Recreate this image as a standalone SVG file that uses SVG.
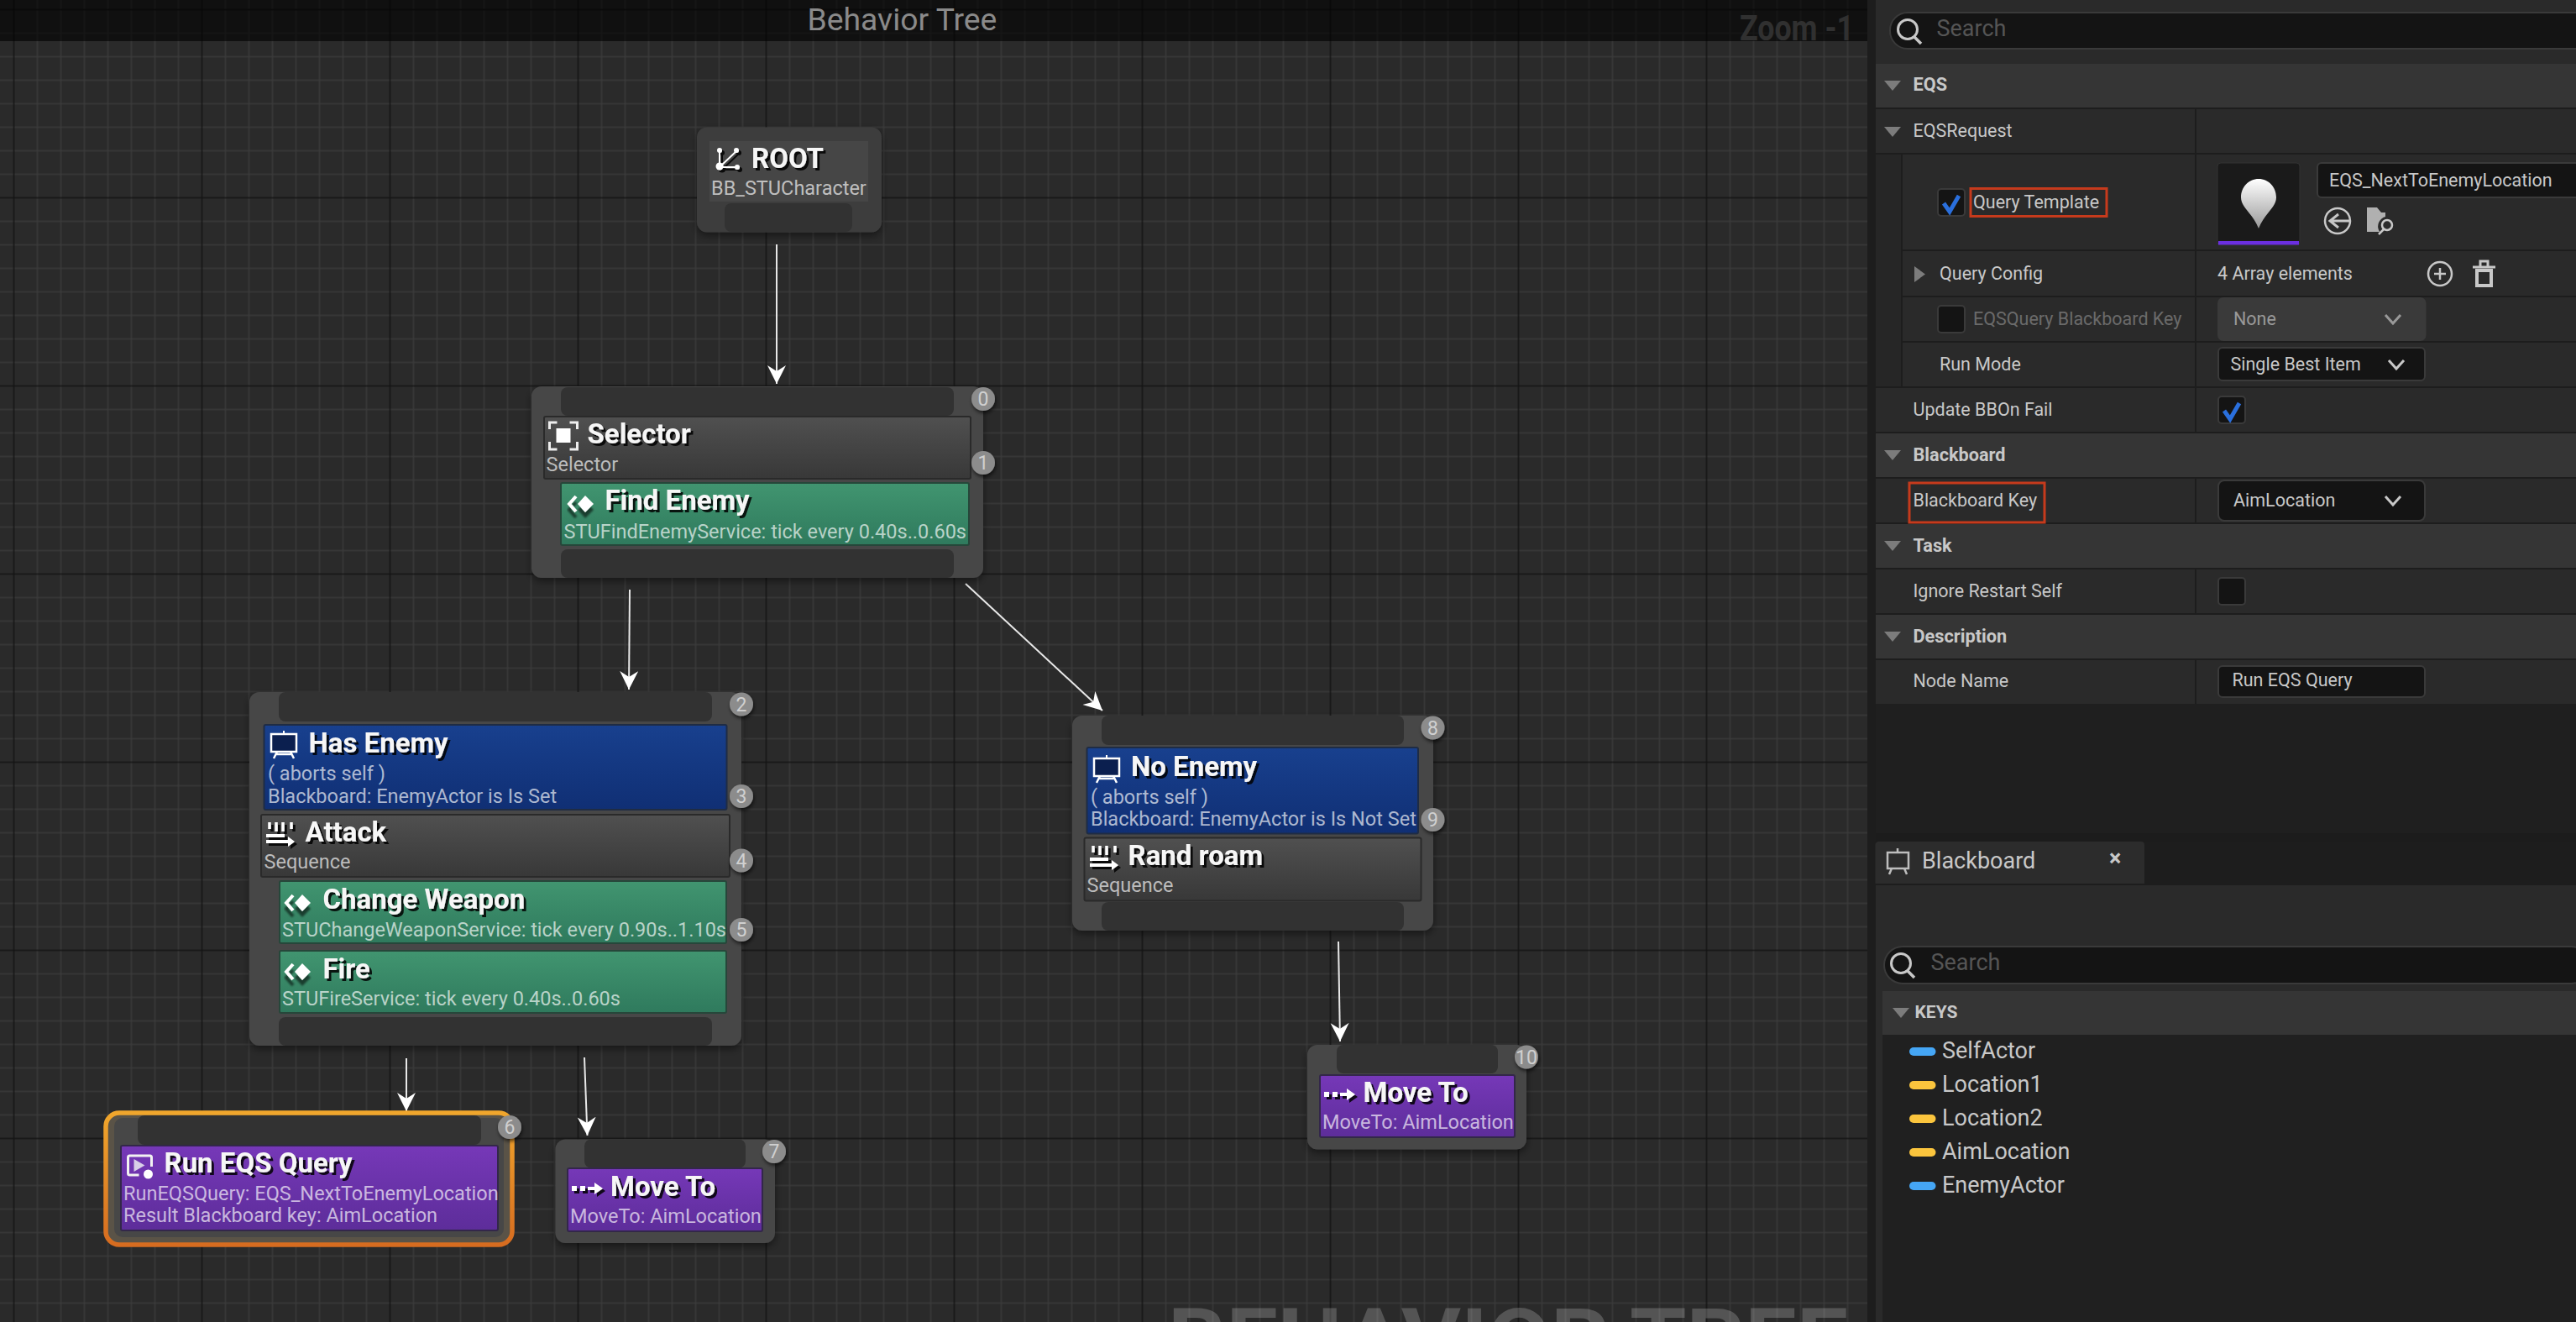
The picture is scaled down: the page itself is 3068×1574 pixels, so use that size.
<svg xmlns="http://www.w3.org/2000/svg" xmlns:xlink="http://www.w3.org/1999/xlink" width="3068" height="1574" viewBox="0 0 3068 1574">
<style>
text{font-family:Roboto,"Liberation Sans",sans-serif}
.node{fill:#474747}
.pin{fill:#323232}
.gray{fill:url(#gGray);stroke:#2a2a2a;stroke-width:2}
.blue{fill:url(#gBlue);stroke:#1f2c44;stroke-width:2}
.green{fill:url(#gGreen);stroke:#26473a;stroke-width:2}
.purple{fill:url(#gPurple);stroke:#33274a;stroke-width:2}
.t{font-weight:700;font-size:33px;fill:#f6f6f6;filter:url(#ts)}
.s{font-size:23.500px;fill:#fff;fill-opacity:.66}
.bc{fill:#8c8c8c;filter:url(#bs)}
.bt{font-size:23px;fill:#d0d0d0;text-anchor:middle}
.lbl{font-size:21.500px;fill:#c8c8c8}
.hd{font-size:21.700px;font-weight:700;fill:#c8c8c8}
.dim{font-size:21.500px;fill:#6a6a6a}
.tri{fill:#7c7c7c}
.rowbg{fill:#2a2a2a}
.hdbg{fill:#353535}
.field{fill:#141414;stroke:#3a3a3a;stroke-width:2}
.red{fill:none;stroke:#c63a1c;stroke-width:3}
.chev{fill:none;stroke:#c8c8c8;stroke-width:3}
.chk{fill:none;stroke:#2a6fdc;stroke-width:5}
.sep{stroke:#1d1d1d;stroke-width:2}
.ico{fill:none;stroke:#c8c8c8;stroke-width:2.500}
.key{font-size:27px;fill:#c8c8c8}
.conn{stroke:#e8e8e8;stroke-width:2;fill:none;marker-end:url(#arrow)}
</style>
<defs>
<pattern id="grid" patternUnits="userSpaceOnUse" x="2.500" y="-2.500" width="224" height="224">
<path d="M42 0V224M70 0V224M98 0V224M126 0V224M154 0V224M182 0V224M210 0V224M0 42H224M0 70H224M0 98H224M0 126H224M0 154H224M0 182H224M0 210H224" stroke="#3a3a3a" stroke-width="1.500" fill="none"/>
<path d="M14 0V224M0 14H224" stroke="#141414" stroke-width="1.500" fill="none"/>
</pattern>
<linearGradient id="gGray" x1="0" y1="0" x2="0" y2="1"><stop offset="0" stop-color="#505050"/><stop offset="1" stop-color="#383838"/></linearGradient>
<linearGradient id="gBlue" x1="0" y1="0" x2="0" y2="1"><stop offset="0" stop-color="#18408e"/><stop offset="1" stop-color="#102f74"/></linearGradient>
<linearGradient id="gGreen" x1="0" y1="0" x2="0" y2="1"><stop offset="0" stop-color="#419570"/><stop offset="1" stop-color="#2f7a5d"/></linearGradient>
<linearGradient id="gPurple" x1="0" y1="0" x2="0" y2="1"><stop offset="0" stop-color="#7638b8"/><stop offset="1" stop-color="#5d2d9a"/></linearGradient>
<linearGradient id="gOrange" x1="0" y1="0" x2="0" y2="1"><stop offset="0" stop-color="#f0a62c"/><stop offset="1" stop-color="#d66c20"/></linearGradient>
<linearGradient id="gPin" x1="0" y1="0" x2="0" y2="1"><stop offset="0" stop-color="#ffffff"/><stop offset="1" stop-color="#9a9a9a"/></linearGradient>
<filter id="ts" x="-10%" y="-20%" width="120%" height="150%"><feDropShadow dx="3" dy="3" stdDeviation="0.400" flood-color="#000" flood-opacity=".85"/></filter>
<filter id="is" x="-10%" y="-20%" width="130%" height="170%"><feDropShadow dx="0" dy="7" stdDeviation="1" flood-color="#000" flood-opacity=".55"/></filter>
<filter id="ns" x="-10%" y="-10%" width="120%" height="125%"><feDropShadow dx="0" dy="4" stdDeviation="5" flood-color="#000" flood-opacity=".45"/></filter>
<filter id="bs" x="-30%" y="-30%" width="160%" height="160%"><feDropShadow dx="1" dy="3" stdDeviation="2" flood-color="#000" flood-opacity=".6"/></filter>
<marker id="arrow" markerUnits="userSpaceOnUse" markerWidth="24" markerHeight="24" refX="22" refY="11" orient="auto"><path d="M0 0L22 11L0 22L7 11Z" fill="#fff"/></marker>
<g id="iRoot" filter="url(#ts)"><path d="M5 24L5 4M5 24L26 4M5 24L26 24" stroke="#fff" stroke-width="2" fill="none"/><circle cx="5" cy="23" r="4.500" fill="#fff"/><circle cx="5" cy="4" r="3" fill="#fff"/><circle cx="25" cy="4" r="3" fill="#fff"/><circle cx="26" cy="24" r="3" fill="#fff"/></g>
<g id="iSel"><path d="M1 10V2H10M25 2H34V10M34 25V34H25M10 34H1V25" stroke="#eee" stroke-width="3" fill="none"/><rect x="9" y="9" width="17" height="17" fill="#fff"/></g>
<g id="iSvc" filter="url(#is)"><path d="M11 1L3 10L11 19" stroke="#fff" stroke-width="4" fill="none"/><path d="M13 10L22 0L32 10L22 20Z" fill="#fff"/></g>
<g id="iBB"><path d="M17 0V4" stroke="#fff" stroke-width="2"/><rect x="2" y="4" width="30" height="21" fill="#0b1f4f" stroke="#fff" stroke-width="2.500"/><path d="M9 25L5 33M25 25L29 33M7 28H27" stroke="#fff" stroke-width="2.500" fill="none"/></g>
<g id="iSeq" filter="url(#ts)"><path d="M4 1V9M12 1V12M20 1V12M30 1V9" stroke="#fff" stroke-width="3.500" fill="none"/><path d="M0 15H22V19H0ZM0 22H26V18L34 24L26 30V26H0Z" fill="#fff"/></g>
<g id="iMove" filter="url(#ts)"><rect x="0" y="4" width="6" height="6" fill="#fff"/><rect x="10" y="4" width="6" height="6" fill="#fff"/><path d="M19 5H27V0L37 7L27 14V9H19Z" fill="#fff"/></g>
<g id="iEqs"><path d="M30 15V4Q30 2 28 2H4Q2 2 2 4V23Q2 25 4 25H15" stroke="#f2f2f2" stroke-width="3" fill="none"/><path d="M9 6L22 13.500L9 21Z" fill="#d8cfe8"/><circle cx="26" cy="24" r="5.500" fill="#fff"/></g>
<g id="iMag"><circle cx="13" cy="13" r="11.500" fill="none" stroke="#c8c8c8" stroke-width="3"/><path d="M21 22L29 30" stroke="#c8c8c8" stroke-width="3.500"/></g>
<path id="iTri" d="M0 0H20L10 12Z"/>
</defs>

<g id="canvas">
<rect x="0" y="0" width="2224" height="1574" fill="#2a2a2a"/>
<rect x="0" y="0" width="2224" height="1574" fill="url(#grid)"/>
<text x="1391" y="1628.500" font-size="100" font-weight="700" fill="#fff" fill-opacity=".2" textLength="810" lengthAdjust="spacingAndGlyphs">BEHAVIOR TREE</text>
<rect x="0" y="0" width="2224" height="49" fill="#000" opacity=".6"/>
<text x="961.500" y="36" font-size="37.300" fill="#8a8a8a">Behavior Tree</text>
<text x="2072" y="48" font-size="42" font-weight="700" fill="#303030" textLength="136" lengthAdjust="spacingAndGlyphs">Zoom -1</text>
</g>

<g id="connectors">
<path class="conn" d="M925 291V457"/>
<path class="conn" d="M750 702L749 821"/>
<path class="conn" d="M1150 695L1313 846"/>
<path class="conn" d="M484 1260V1323"/>
<path class="conn" d="M696 1259L699.500 1352"/>
<path class="conn" d="M1594 1121L1596 1240"/>
</g>

<g id="node-root">
<rect x="830" y="151.500" width="220" height="125" rx="12" fill="#3d3d3d" filter="url(#ns)"/>
<rect x="845" y="168" width="189" height="72" fill="#464646"/>
<rect class="pin" x="863" y="242" width="152" height="34" rx="8"/>
<use xlink:href="#iRoot" href="#iRoot" x="852" y="175"/>
<text class="t" x="895" y="200">ROOT</text>
<text class="s" x="847" y="231.500">BB_STUCharacter</text>
</g>

<g id="node-selector">
<rect class="node" x="633" y="460" width="538" height="228" rx="12" filter="url(#ns)"/>
<rect class="pin" x="668" y="461" width="468" height="34" rx="8"/>
<rect class="pin" x="668" y="654" width="468" height="34" rx="8"/>
<rect class="gray" x="648" y="496" width="508" height="74" rx="2"/>
<use xlink:href="#iSel" href="#iSel" x="653.500" y="501"/>
<text class="t" x="699.500" y="528">Selector</text>
<text class="s" x="650.500" y="560.500">Selector</text>
<circle class="bc" cx="1171" cy="475" r="14"/><text class="bt" x="1171" y="483">0</text>
<circle class="bc" cx="1171" cy="551" r="14"/><text class="bt" x="1171" y="559">1</text>
</g>
<g id="node-find-enemy">
<rect class="green" x="668" y="575" width="486" height="74" rx="2"/>
<use xlink:href="#iSvc" href="#iSvc" x="675" y="590"/>
<text class="t" x="720.500" y="607">Find Enemy</text>
<text class="s" x="671.500" y="640.500">STUFindEnemyService: tick every 0.40s..0.60s</text>
</g>

<g id="node-attack">
<rect class="node" x="297" y="824" width="586" height="421" rx="12" filter="url(#ns)"/>
<rect class="pin" x="332" y="824" width="516" height="35" rx="8"/>
<rect class="pin" x="332" y="1211" width="516" height="34" rx="8"/>
<rect class="gray" x="311" y="970" width="558" height="74" rx="2"/>
<use xlink:href="#iSeq" href="#iSeq" x="317" y="978"/>
<text class="t" x="363.500" y="1001.500">Attack</text>
<text class="s" x="314.500" y="1034">Sequence</text>
<circle class="bc" cx="883" cy="838.500" r="14"/><text class="bt" x="883" y="846.500">2</text>
<circle class="bc" cx="883" cy="1024.500" r="14"/><text class="bt" x="883" y="1032.500">4</text>
</g>
<g id="node-has-enemy">
<rect class="blue" x="314.500" y="863" width="551" height="101" rx="2"/>
<use xlink:href="#iBB" href="#iBB" x="321" y="870"/>
<text class="t" x="367.500" y="895.500">Has Enemy</text>
<text class="s" x="319" y="928.500">( aborts self )</text>
<text class="s" x="319" y="955.500">Blackboard: EnemyActor is Is Set</text>
<circle class="bc" cx="883" cy="948" r="14"/><text class="bt" x="883" y="956">3</text>
</g>
<g id="node-change-weapon">
<rect class="green" x="333" y="1049" width="532" height="74" rx="2"/>
<use xlink:href="#iSvc" href="#iSvc" x="338" y="1065"/>
<text class="t" x="384.500" y="1081.500">Change Weapon</text>
<text class="s" x="336" y="1114.500">STUChangeWeaponService: tick every 0.90s..1.10s</text>
<circle class="bc" cx="883" cy="1107" r="14"/><text class="bt" x="883" y="1115">5</text>
</g>
<g id="node-fire">
<rect class="green" x="333" y="1132" width="532" height="74" rx="2"/>
<use xlink:href="#iSvc" href="#iSvc" x="338" y="1147"/>
<text class="t" x="384.500" y="1164.500">Fire</text>
<text class="s" x="336" y="1197">STUFireService: tick every 0.40s..0.60s</text>
</g>

<g id="node-run-eqs">
<rect x="126" y="1325" width="484" height="157" rx="16" fill="#5a5347" stroke="url(#gOrange)" stroke-width="5.500"/>
<rect class="node" x="136" y="1331" width="464" height="142" rx="10"/>
<rect class="pin" x="164" y="1328" width="409" height="35" rx="8"/>
<rect class="purple" x="144" y="1364" width="449" height="101" rx="2"/>
<use xlink:href="#iEqs" href="#iEqs" x="150.500" y="1374"/>
<text class="t" x="195.500" y="1395.500">Run EQS Query</text>
<text class="s" x="147" y="1428.500">RunEQSQuery: EQS_NextToEnemyLocation</text>
<text class="s" x="147" y="1455">Result Blackboard key: AimLocation</text>
<circle class="bc" cx="607" cy="1342" r="14"/><text class="bt" x="607" y="1350">6</text>
</g>

<g id="node-move-to-7">
<rect class="node" x="661.500" y="1356.500" width="261.500" height="123.500" rx="12" filter="url(#ns)"/>
<rect class="pin" x="696" y="1356.500" width="192" height="34" rx="8"/>
<rect class="purple" x="676" y="1391" width="232" height="75" rx="2"/>
<use xlink:href="#iMove" href="#iMove" x="681" y="1408"/>
<text class="t" x="727" y="1423.500">Move To</text>
<text class="s" x="679" y="1456">MoveTo: AimLocation</text>
<circle class="bc" cx="922" cy="1371" r="14"/><text class="bt" x="922" y="1379">7</text>
</g>

<g id="node-rand-roam">
<rect class="node" x="1277" y="852" width="430" height="256" rx="12" filter="url(#ns)"/>
<rect class="pin" x="1312" y="852" width="360" height="35" rx="8"/>
<rect class="pin" x="1312" y="1074" width="360" height="34" rx="8"/>
<rect class="gray" x="1291.500" y="997.500" width="401" height="75" rx="2"/>
<use xlink:href="#iSeq" href="#iSeq" x="1298" y="1006"/>
<text class="t" x="1343.500" y="1030">Rand roam</text>
<text class="s" x="1294.500" y="1062">Sequence</text>
<circle class="bc" cx="1706.500" cy="866.500" r="14"/><text class="bt" x="1706.500" y="874.500">8</text>
</g>
<g id="node-no-enemy">
<rect class="blue" x="1294.500" y="890" width="394.500" height="102.500" rx="2"/>
<use xlink:href="#iBB" href="#iBB" x="1301" y="899"/>
<text class="t" x="1347" y="923.500">No Enemy</text>
<text class="s" x="1299" y="956.500">( aborts self )</text>
<text class="s" x="1299" y="983">Blackboard: EnemyActor is Is Not Set</text>
<circle class="bc" cx="1706.500" cy="976" r="14"/><text class="bt" x="1706.500" y="984">9</text>
</g>

<g id="node-move-to-10">
<rect class="node" x="1557" y="1244" width="261" height="124.500" rx="12" filter="url(#ns)"/>
<rect class="pin" x="1592" y="1244" width="192" height="34" rx="8"/>
<rect class="purple" x="1572" y="1280" width="232" height="74" rx="2"/>
<use xlink:href="#iMove" href="#iMove" x="1577" y="1296"/>
<text class="t" x="1623.500" y="1311.500">Move To</text>
<text class="s" x="1575" y="1343.500">MoveTo: AimLocation</text>
<circle class="bc" cx="1818" cy="1258.500" r="14"/><text class="bt" x="1818" y="1266.500">10</text>
</g>

<g id="details-panel">
<rect x="2224" y="0" width="844" height="1574" fill="#1d1d1d"/>
<rect x="2234" y="0" width="834" height="76" fill="#2a2a2a"/>
<rect class="field" x="2251" y="15" width="840" height="43" rx="21"/>
<use xlink:href="#iMag" href="#iMag" x="2259" y="22"/>
<text x="2306.500" y="43" font-size="27" fill="#555">Search</text>

<rect class="hdbg" x="2234" y="76" width="834" height="52"/>
<use class="tri" xlink:href="#iTri" href="#iTri" x="2244" y="96"/>
<text class="hd" x="2278.500" y="108">EQS</text>

<rect class="rowbg" x="2234" y="130" width="834" height="52"/>
<use class="tri" xlink:href="#iTri" href="#iTri" x="2244" y="151"/>
<text class="lbl" x="2278.500" y="163">EQSRequest</text>

<rect x="2234" y="184" width="30" height="276" fill="#262626"/>
<rect class="rowbg" x="2266" y="184" width="802" height="113"/>
<rect class="field" x="2308" y="225" width="32" height="32" rx="4"/>
<path class="chk" d="M2315 242L2322 252L2333 233"/>
<text class="lbl" x="2350" y="248">Query Template</text>
<rect class="red" x="2347" y="224.500" width="162" height="33"/>
<rect x="2641" y="194" width="98" height="98" rx="4" fill="#1a1a1a" stroke="#333" stroke-width="1"/>
<rect x="2642" y="287" width="96" height="4.500" fill="#6b2fe0"/>
<path d="M2690 213C2702 213 2711 223 2711 235C2711 247 2697 254 2690 272C2683 254 2669 247 2669 235C2669 223 2678 213 2690 213Z" fill="url(#gPin)"/>
<rect class="field" x="2760" y="194" width="330" height="41" rx="5"/>
<text class="lbl" x="2774" y="222">EQS_NextToEnemyLocation</text>
<circle class="ico" cx="2784" cy="263" r="15"/>
<path d="M2775 263H2798M2785 255L2775 263L2785 271" fill="none" stroke="#c8c8c8" stroke-width="3"/>
<path d="M2819 276V247H2831L2836 253H2841V258A12 12 0 0 0 2834 276Z" fill="#b0b0b0"/>
<circle class="ico" cx="2843" cy="268" r="6"/>
<path d="M2839 273L2833 279" class="ico"/>

<rect class="rowbg" x="2266" y="299" width="802" height="53"/>
<path d="M2280 317L2293 326.500L2280 336Z" fill="#7c7c7c"/>
<text class="lbl" x="2310" y="333">Query Config</text>
<text class="lbl" x="2641" y="333">4 Array elements</text>
<circle class="ico" cx="2906" cy="326" r="14"/>
<path d="M2899 326H2913M2906 319V333" class="ico"/>
<path d="M2945 318H2972M2954 317V311H2963V317" fill="none" stroke="#c8c8c8" stroke-width="3"/>
<path d="M2950 322H2967V340H2950Z" fill="none" stroke="#c8c8c8" stroke-width="4"/>

<rect class="rowbg" x="2266" y="354" width="802" height="52"/>
<rect class="field" x="2308" y="364" width="32" height="32" rx="4"/>
<text class="dim" x="2350" y="387">EQSQuery Blackboard Key</text>
<rect x="2641" y="354" width="248.500" height="52" rx="7" fill="#3a3a3a"/>
<text x="2660" y="387" font-size="21.500" fill="#999">None</text>
<path class="chev" d="M2841 375L2850 385L2859 375" style="stroke:#999"/>

<rect class="rowbg" x="2266" y="408" width="802" height="52"/>
<text class="lbl" x="2310" y="441">Run Mode</text>
<rect class="field" x="2642" y="414" width="246" height="39" rx="5"/>
<text class="lbl" x="2656.500" y="441">Single Best Item</text>
<path class="chev" d="M2845 429L2854 439L2863 429"/>

<rect class="rowbg" x="2234" y="462" width="834" height="52"/>
<text class="lbl" x="2278.500" y="495">Update BBOn Fail</text>
<rect class="field" x="2642" y="472" width="32" height="32" rx="4"/>
<path class="chk" d="M2649 489L2656 499L2667 480"/>

<rect class="hdbg" x="2234" y="516" width="834" height="52"/>
<use class="tri" xlink:href="#iTri" href="#iTri" x="2244" y="536"/>
<text class="hd" x="2278.500" y="549">Blackboard</text>

<rect class="rowbg" x="2234" y="570" width="834" height="52"/>
<text class="lbl" x="2278.500" y="603">Blackboard Key</text>
<rect class="red" x="2274" y="575" width="161" height="47"/>
<rect class="field" x="2642" y="572" width="246" height="48" rx="7"/>
<text class="lbl" x="2660" y="603">AimLocation</text>
<path class="chev" d="M2841 591L2850 601L2859 591"/>

<rect class="hdbg" x="2234" y="624" width="834" height="52"/>
<use class="tri" xlink:href="#iTri" href="#iTri" x="2244" y="644"/>
<text class="hd" x="2278.500" y="657">Task</text>

<rect class="rowbg" x="2234" y="678" width="834" height="52"/>
<text class="lbl" x="2278.500" y="711">Ignore Restart Self</text>
<rect class="field" x="2642" y="688" width="32" height="32" rx="4"/>

<rect class="hdbg" x="2234" y="732" width="834" height="52"/>
<use class="tri" xlink:href="#iTri" href="#iTri" x="2244" y="752"/>
<text class="hd" x="2278.500" y="765">Description</text>

<rect class="rowbg" x="2234" y="786" width="834" height="52"/>
<text class="lbl" x="2278.500" y="818">Node Name</text>
<rect class="field" x="2642" y="793" width="246" height="37" rx="5"/>
<text class="lbl" x="2658.500" y="817">Run EQS Query</text>

<path class="sep" d="M2615 130V182M2615 184V297M2615 299V352M2615 354V406M2615 408V460M2615 462V514M2615 570V622M2615 678V730M2615 786V838"/>
</g>

<g id="blackboard-panel">
<rect x="2234" y="838" width="834" height="154" fill="#1f1f1f"/>
<rect x="2234" y="992" width="834" height="10" fill="#1c1c1c"/>
<path d="M2233.500 1052V1006A4 4 0 0 1 2238 1002H2550A4 4 0 0 1 2554 1006V1052Z" fill="#2c2c2c"/>
<path d="M2260 1010V1015M2248 1015H2273V1034H2248ZM2253 1034L2250 1041M2268 1034L2271 1041" fill="none" stroke="#bdbdbd" stroke-width="2.500"/>
<text x="2289" y="1034" font-size="27" fill="#c8c8c8">Blackboard</text>
<text x="2512" y="1031" font-size="27" font-weight="700" fill="#c8c8c8">×</text>
<rect x="2234" y="1054" width="834" height="520" fill="#2a2a2a"/>
<rect class="field" x="2244" y="1127" width="840" height="44" rx="22"/>
<use xlink:href="#iMag" href="#iMag" x="2251" y="1134"/>
<text x="2299.500" y="1155" font-size="27" fill="#555">Search</text>
<rect x="2242" y="1180" width="826" height="394" fill="#202020"/>
<rect class="hdbg" x="2242" y="1180" width="826" height="52"/>
<use class="tri" xlink:href="#iTri" href="#iTri" x="2254" y="1200"/>
<text x="2280.500" y="1212" font-size="21" font-weight="700" fill="#c8c8c8">KEYS</text>
<rect x="2274" y="1247" width="31.500" height="10" rx="5" fill="#45a6f5"/>
<text class="key" x="2313" y="1260">SelfActor</text>
<rect x="2274" y="1287" width="31.500" height="10" rx="5" fill="#fbc53d"/>
<text class="key" x="2313" y="1300">Location1</text>
<rect x="2274" y="1327" width="31.500" height="10" rx="5" fill="#fbc53d"/>
<text class="key" x="2313" y="1340">Location2</text>
<rect x="2274" y="1367" width="31.500" height="10" rx="5" fill="#fbc53d"/>
<text class="key" x="2313" y="1380">AimLocation</text>
<rect x="2274" y="1407" width="31.500" height="10" rx="5" fill="#45a6f5"/>
<text class="key" x="2313" y="1420">EnemyActor</text>
</g>
</svg>
